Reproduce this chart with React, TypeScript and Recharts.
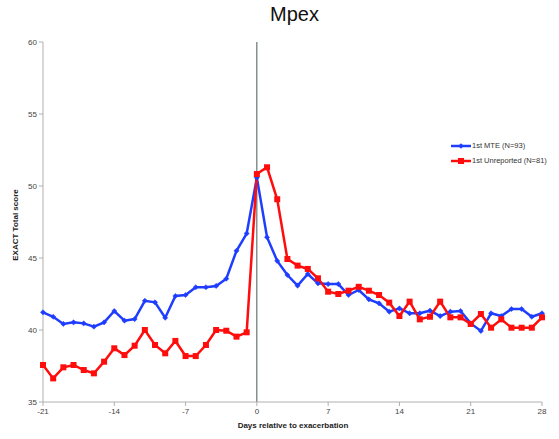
import React from 'react';
import { LineChart, Line, XAxis, YAxis, ReferenceLine } from 'recharts';

const days = [-21,-20,-19,-18,-17,-16,-15,-14,-13,-12,-11,-10,-9,-8,-7,-6,-5,-4,-3,-2,-1,0,1,2,3,4,5,6,7,8,9,10,11,12,13,14,15,16,17,18,19,20,21,22,23,24,25,26,27,28];
const mteValues = [41.23,40.92,40.42,40.53,40.46,40.23,40.53,41.32,40.65,40.76,42.03,41.92,40.85,42.36,42.43,42.97,42.97,43.06,43.56,45.5,46.7,50.58,46.44,44.8,43.82,43.08,43.89,43.24,43.19,43.19,42.43,42.78,42.13,41.85,41.27,41.5,41.16,41.16,41.34,40.97,41.27,41.32,40.46,39.93,41.16,40.97,41.46,41.46,40.92,41.16];
const unreportedValues = [37.57,36.64,37.41,37.57,37.22,36.99,37.8,38.73,38.26,38.91,40.0,38.96,38.38,39.24,38.19,38.19,38.96,40.0,39.95,39.54,39.84,50.83,51.3,49.08,44.93,44.47,44.24,43.59,42.66,42.5,42.73,43.0,42.73,42.43,41.9,40.97,41.97,40.74,40.92,41.97,40.88,40.88,40.42,41.11,40.16,40.74,40.16,40.16,40.16,40.88];
const xTicks = [-21,-14,-7,0,7,14,21,28];
const yTicks = [35,40,45,50,55,60];
const seriesNames = ['1st MTE (N=93)', '1st Unreported (N=81)'];
const BLUE = '#1f3dff';
const RED = '#ff0d0d';

const data = days.map((d, i) => ({ day: d, mte: mteValues[i], unrep: unreportedValues[i] }));

const Diamond = (props: any) => {
  const { cx, cy } = props;
  if (cx == null || cy == null) return null;
  const r = 2.6;
  return <polygon points={`${cx},${cy - r} ${cx + r},${cy} ${cx},${cy + r} ${cx - r},${cy}`} fill={BLUE} stroke={BLUE} strokeWidth={0.5} />;
};
const Square = (props: any) => {
  const { cx, cy } = props;
  if (cx == null || cy == null) return null;
  const s = 3;
  return <rect x={cx - s} y={cy - s} width={2 * s} height={2 * s} fill={RED} />;
};

const LegendBox = () => (
  <div style={{ position: 'absolute', left: 451, top: 138, fontSize: 7.5, color: '#333' }}>
    {[{ c: BLUE, n: seriesNames[0], sq: false }, { c: RED, n: seriesNames[1], sq: true }].map((it, i) => (
      <div key={i} style={{ display: 'flex', alignItems: 'center', height: 15 }}>
        <svg width={20} height={8} style={{ marginRight: 1 }}>
          <line x1={0} y1={4} x2={20} y2={4} stroke={it.c} strokeWidth={2.5} />
          {it.sq ? <rect x={7} y={1} width={6} height={6} fill={it.c} /> : <polygon points="10,1.2 12.8,4 10,6.8 7.2,4" fill={it.c} />}
        </svg>
        <span>{it.n}</span>
      </div>
    ))}
  </div>
);

export default function App() {
  return (
    <div style={{ position: 'absolute', left: 0, top: 0, width: 559, height: 439, background: '#fff', fontFamily: 'Liberation Sans, Arial, sans-serif' }}>
      <div style={{ position: 'absolute', left: 0, width: 589, top: 3, textAlign: 'center', fontSize: 20, color: '#111' }}>Mpex</div>
      <div style={{ position: 'absolute', left: 15, top: 225, transform: 'translate(-50%,-50%) rotate(-90deg)', whiteSpace: 'nowrap', fontSize: 8, fontWeight: 'bold', color: '#222' }}>EXACT Total score</div>
      <div style={{ position: 'absolute', left: 0, width: 586, top: 421, textAlign: 'center', fontSize: 8, fontWeight: 'bold', color: '#222' }}>Days relative to exacerbation</div>
      <LineChart width={559} height={439} data={data} margin={{ top: 42, right: 17, left: 13, bottom: 0 }}>
        <XAxis dataKey="day" type="number" domain={[-21, 28]} ticks={xTicks} interval={0} height={37}
          tick={{ fontSize: 8, fill: '#444' }} stroke="#b0b0b0" tickSize={4} tickLine={{ stroke: '#b0b0b0' }} />
        <YAxis type="number" domain={[35, 60]} ticks={yTicks} interval={0} width={30}
          tick={{ fontSize: 8, fill: '#444' }} stroke="#b0b0b0" tickSize={4} />
        <ReferenceLine x={0} stroke="#4a5858" strokeWidth={1} />
        <Line dataKey="mte" name={seriesNames[0]} stroke={BLUE} strokeWidth={2.5} dot={<Diamond />} isAnimationActive={false} />
        <Line dataKey="unrep" name={seriesNames[1]} stroke={RED} strokeWidth={2.5} dot={<Square />} isAnimationActive={false} />
      </LineChart>
      <LegendBox />
    </div>
  );
}
